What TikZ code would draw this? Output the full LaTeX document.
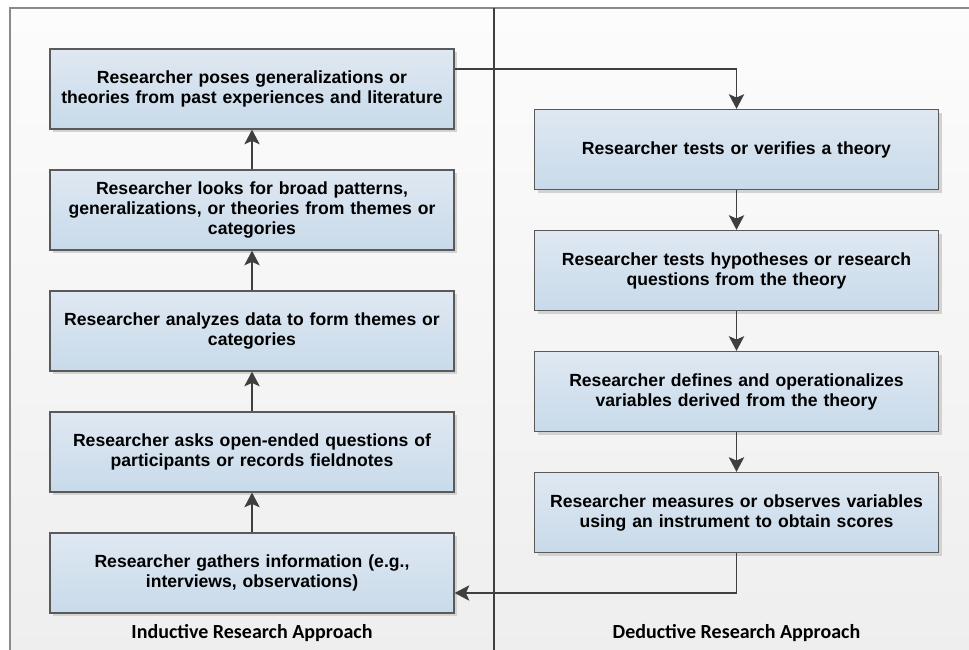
\documentclass[tikz,border=0pt]{standalone}
\usepackage{fontspec}
\setmainfont{Liberation Sans}
\newfontfamily\labelfont{Carlito}
\usetikzlibrary{arrows.meta,calc}

\definecolor{boxtop}{HTML}{DFE8F2}
\definecolor{boxbot}{HTML}{C8DAEA}
\definecolor{boxline}{HTML}{5A5A5A}
\definecolor{linkcol}{HTML}{3F3F3F}
\definecolor{paneltop}{HTML}{FCFCFC}
\definecolor{panelbot}{HTML}{EEEEEE}
\definecolor{framecol}{HTML}{8A8A8A}
\definecolor{shadowcol}{HTML}{D2D2D2}

\tikzset{
  stepbox/.style={
    draw=boxline, line width=0.9pt,
    top color=boxtop, bottom color=boxbot,
    minimum width=303pt, minimum height=60pt,
    text width=295pt, align=center, inner sep=0pt,
    font=\fontsize{13.2}{15}\selectfont\bfseries,
    preaction={draw=none, fill=shadowcol, transform canvas={xshift=2.5pt, yshift=-2.5pt}}
  },
  link/.style={draw=linkcol, line width=1.4pt,
    -{Stealth[length=11pt,width=11.5pt,inset=2.5pt]}},
  caption/.style={font=\labelfont\fontsize{15}{17}\selectfont\bfseries, inner sep=0pt}
}

\begin{document}
\begin{tikzpicture}[x=0.75pt,y=-0.75pt]
  \useasboundingbox (0,0) rectangle (969,649);
  \begin{scope}
    \clip (0,0) rectangle (969,649);
    % panel background and frame (right and bottom edges run off the page)
    \fill[white] (0,0) rectangle (969,649);
    \shade[top color=paneltop, bottom color=panelbot] (10,8) rectangle (980,660);
    \draw[framecol, line width=1.3pt] (10,660) -- (10,8) -- (980,8);
    \draw[linkcol, line width=0.8pt] (494,8) -- (494,660);
  \end{scope}

  % inductive column
  \node[stepbox] (L1) at (252,89)  {Researcher poses generalizations or\\theories from past experiences and literature};
  \node[stepbox] (L2) at (252,210) {Researcher looks for broad patterns,\\generalizations, or theories from themes or\\categories};
  \node[stepbox] (L3) at (252,331) {Researcher analyzes data to form themes or\\categories};
  \node[stepbox] (L4) at (252,452) {Researcher asks open-ended questions of\\participants or records fieldnotes};
  \node[stepbox] (L5) at (252,573) {Researcher gathers information (e.g.,\\interviews, observations)};

  % deductive column
  \node[stepbox] (R1) at (736.5,149.5) {Researcher tests or verifies a theory};
  \node[stepbox] (R2) at (736.5,270.5) {Researcher tests hypotheses or research\\questions from the theory};
  \node[stepbox] (R3) at (736.5,391.5) {Researcher defines and operationalizes\\variables derived from the theory};
  \node[stepbox] (R4) at (736.5,512.5) {Researcher measures or observes variables\\using an instrument to obtain scores};

  % captions
  \node[caption] (capL) at (252,633) {Inductive Research Approach};
  \node[caption] (capR) at (736.5,633) {Deductive Research Approach};

  % connectors
  \draw[link] (L5.north) -- (L4.south);
  \draw[link] (L4.north) -- (L3.south);
  \draw[link] (L3.north) -- (L2.south);
  \draw[link] (L2.north) -- (L1.south);
  \draw[link] ([yshift=15pt]L1.east) -| (R1.north);
  \draw[link] (R1.south) -- (R2.north);
  \draw[link] (R2.south) -- (R3.north);
  \draw[link] (R3.south) -- (R4.north);
  \draw[link] (R4.south) |- ([yshift=-15pt]L5.east);
\end{tikzpicture}
\end{document}
